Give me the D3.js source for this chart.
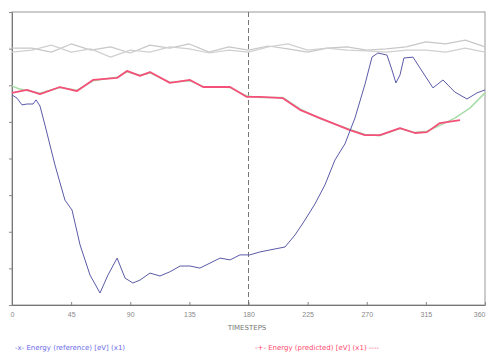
<!DOCTYPE html>
<html>
<head>
<meta charset="utf-8">
<script src="https://cdn.jsdelivr.net/npm/d3@7"></script>
<style>
body { margin: 0; background: #fff; }
svg { display: block; font-family: "DejaVu Sans", sans-serif; }
</style>
</head>
<body>
<div id="chart"></div>
<script>
// data (x in steps, y in arbitrary units 0..100)
const xTicks = [0, 45, 90, 135, 180, 225, 270, 315, 360]
const markerX = 180

const blueX = [0, 3.8, 7.6, 11.4, 16, 18.3, 21.3, 25.1, 32.7, 40.3, 45.7, 51.8, 59.4, 67, 73, 80, 86, 92, 97.4, 105, 112.6, 120, 128, 135.5, 143, 150.7, 158.3, 166, 173.5, 181, 188.7, 196.4, 207.8, 215.4, 223, 230.6, 238.2, 245.8, 253.4, 261, 268.7, 274, 278.5, 285.4, 289.2, 292.2, 295.3, 298.3, 305.2, 310.5, 320.4, 328, 337, 346.3, 353.9, 360]
const blueY = [71.7, 70.6, 68.3, 68.6, 68.6, 70.0, 67.9, 61.4, 47.8, 35.8, 32.4, 20.5, 10.2, 4.1, 10.2, 16.0, 9.2, 7.5, 8.5, 10.9, 9.9, 11.3, 13.3, 13.3, 12.6, 14.3, 16.0, 15.4, 17.1, 17.1, 18.1, 18.8, 19.8, 23.9, 29.0, 34.5, 41.0, 49.5, 55.0, 63.8, 75.4, 84.6, 86.0, 85.3, 80.2, 75.8, 78.5, 84.3, 84.6, 80.9, 74.1, 76.8, 72.7, 70.3, 72.4, 73.4]

const redX = [0, 11.4, 21.3, 36.5, 49.5, 61.6, 79.9, 87.5, 97.4, 105, 120.2, 135.5, 145.4, 166, 178.8, 188.7, 206.2, 219.2, 234.4, 257.2, 268.6, 280, 295.3, 306.7, 315.8, 325.7, 341]
const redY = [72.4, 73.4, 72.0, 74.4, 73.0, 76.8, 77.5, 79.9, 78.2, 79.5, 75.8, 76.8, 74.4, 74.4, 71.0, 71.0, 70.6, 66.6, 63.8, 59.7, 58.0, 58.0, 60.4, 58.7, 59.0, 62.1, 63.1]

const greenX = [0, 5, 11.4, 21.3, 36.5, 49.5, 61.6, 79.9, 87.5, 97.4, 105, 120.2, 135.5, 145.4, 166, 178.8, 188.7, 206.2, 219.2, 234.4, 257.2, 268.6, 280, 295.3, 306.7, 315.8, 325.7, 337, 348.5, 360]
const greenY = [74.8, 73.8, 73.2, 72.3, 74.2, 73.3, 76.5, 77.7, 79.6, 78.4, 79.2, 76.0, 76.5, 74.6, 74.2, 71.3, 70.8, 70.8, 66.9, 63.6, 59.9, 58.2, 57.8, 60.2, 58.9, 59.3, 61.3, 63.8, 67.2, 72.4]

const greyX = d3.range(0, 361, 15)
const greyAY = [87.7, 87.7, 86.3, 89.1, 87.0, 88.1, 86.0, 88.7, 87.7, 89.1, 86.3, 88.1, 87.0, 88.4, 87.4, 86.3, 87.7, 88.1, 87.0, 87.4, 88.1, 89.8, 89.1, 90.4, 88.1]
const greyBY = [86.3, 87.0, 88.7, 86.3, 87.4, 84.6, 87.0, 86.3, 88.1, 87.4, 86.0, 87.0, 86.3, 88.1, 89.1, 87.0, 87.7, 87.0, 86.7, 86.3, 87.0, 87.0, 86.3, 87.7, 86.3]

const xLabel = "TIMESTEPS"
const legendBlue = "-x- Energy (reference) [eV] (x1)"
const legendRed = "-+- Energy (predicted) [eV] (x1) ----"

const width = 487
const height = 358
const margins = { top: 12, bottom: 53, left: 12, right: 2 }

let svg = d3.select('div#chart').append('svg').attr('width', width).attr('height', height)

let x = d3.scaleLinear().domain([0, 360]).range([margins.left, width - margins.right])
let y = d3.scaleLinear().domain([0, 100]).range([height - margins.bottom, margins.top])

// frame
svg.append('rect')
    .attr('x', x(0)).attr('y', y(100))
    .attr('width', x(360) - x(0)).attr('height', y(0) - y(100))
    .attr('fill', 'none').attr('stroke', '#999').attr('stroke-width', 1)

let xAxisGroup = svg.append('g').attr('transform', `translate(0, ${y(0)})`)
xAxisGroup.call(d3.axisBottom(x).tickValues(xTicks).tickSizeInner(-3).tickSizeOuter(0).tickPadding(7))
let yAxisGroup = svg.append('g').attr('transform', `translate(${x(0)}, 0)`)
yAxisGroup.call(d3.axisLeft(y).tickValues(d3.range(0, 101, 12.5)).tickSize(3).tickFormat(''))

svg.selectAll('.domain').attr('stroke', '#777')
svg.selectAll('.tick line').attr('stroke', '#888')
xAxisGroup.selectAll('text').attr('fill', '#888').attr('font-size', 7)
xAxisGroup.selectAll('.tick:last-of-type text').attr('text-anchor', 'end')

svg.append('text')
    .attr('x', 247).attr('y', 330)
    .attr('text-anchor', 'middle')
    .attr('font-size', 7).attr('fill', '#777')
    .text(xLabel)

// marker
svg.append('line')
    .attr('x1', x(markerX)).attr('x2', x(markerX))
    .attr('y1', y(100)).attr('y2', y(0))
    .attr('stroke', '#777').attr('stroke-dasharray', '5,3')

const line = d3.line().x(d => x(d[0])).y(d => y(d[1]))
const series = [
    { xs: greyX, ys: greyAY, color: '#c8c8c8', w: 1.2 },
    { xs: greyX, ys: greyBY, color: '#d0d0d0', w: 1.2 },
    { xs: greenX, ys: greenY, color: '#a8dca8', w: 1.5 },
    { xs: redX, ys: redY, color: '#f5507a', w: 1.8 },
    { xs: blueX, ys: blueY, color: '#5a5aa8', w: 1 },
]
series.forEach(s => {
    svg.append('path')
        .datum(s.xs.map((v, i) => [v, s.ys[i]]))
        .attr('d', line)
        .attr('fill', 'none')
        .attr('stroke', s.color)
        .attr('stroke-width', s.w)
        .attr('stroke-linejoin', 'round')
})

// legend
svg.append('text').attr('x', 15).attr('y', 350).attr('font-size', 7).attr('fill', '#6a6ae8').text(legendBlue)
svg.append('text').attr('x', 255).attr('y', 350).attr('font-size', 7).attr('fill', '#ff4a70').text(legendRed)
</script>
</body>
</html>
